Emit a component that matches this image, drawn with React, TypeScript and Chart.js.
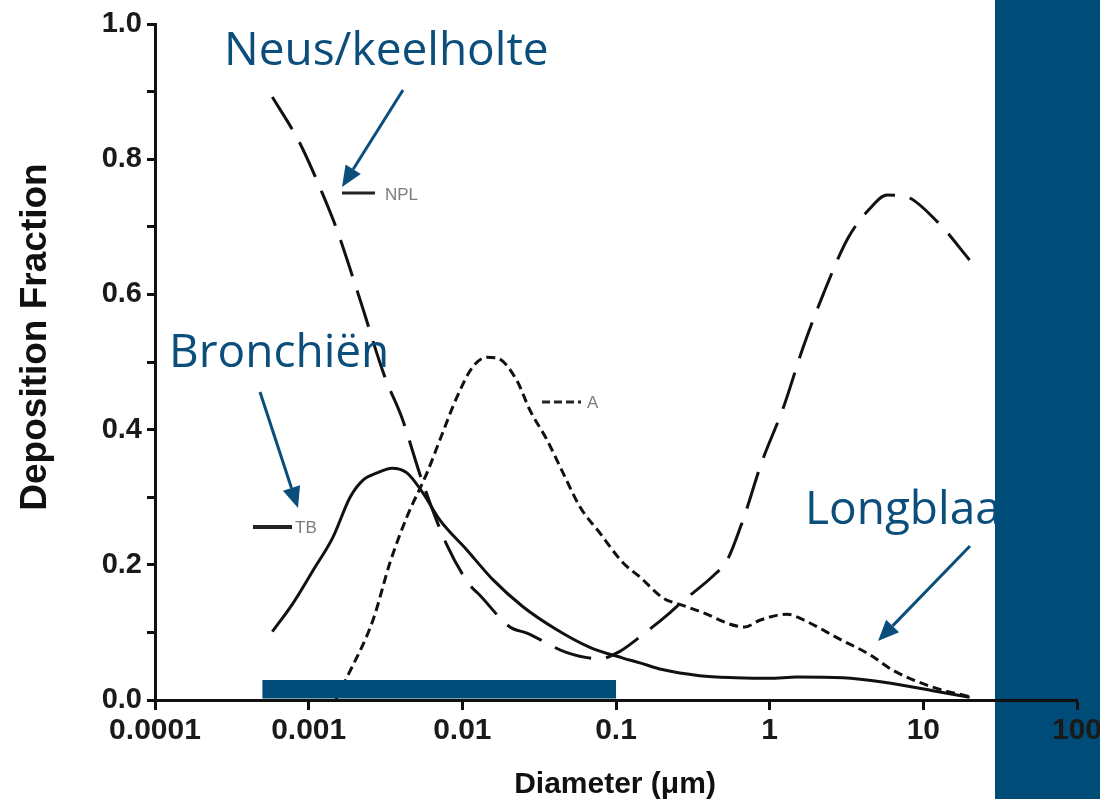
import React, { useEffect, useRef } from "react";
import { Chart, registerables } from "chart.js";

Chart.register(...registerables);

// Deposition fraction per region versus particle diameter (µm)
const npDiameter = [0.00058, 0.00082, 0.00092, 0.00122, 0.00153, 0.00216, 0.00313, 0.00405, 0.00546, 0.00794, 0.0112, 0.013, 0.0204, 0.0263, 0.048, 0.0785, 0.106, 0.137, 0.224, 0.272, 0.44, 0.527, 0.67, 0.886, 1.23, 1.63, 2.22, 3.23, 4.49, 5.8, 7.6, 12.4, 20];
const npFraction = [0.892, 0.836, 0.814, 0.751, 0.695, 0.592, 0.478, 0.417, 0.325, 0.229, 0.17, 0.155, 0.108, 0.099, 0.07, 0.061, 0.072, 0.09, 0.129, 0.146, 0.186, 0.206, 0.266, 0.351, 0.433, 0.518, 0.599, 0.683, 0.727, 0.747, 0.745, 0.707, 0.651];

const aDiameter = [0.0015, 0.00177, 0.00262, 0.00338, 0.00436, 0.00589, 0.00715, 0.00922, 0.0117, 0.0145, 0.0168, 0.0226, 0.0275, 0.0355, 0.0452, 0.0582, 0.0785, 0.111, 0.143, 0.202, 0.272, 0.351, 0.69, 0.863, 1.3, 1.57, 2.86, 4.49, 6.34, 11.5, 20];
const aFraction = [0.0, 0.033, 0.118, 0.203, 0.271, 0.336, 0.385, 0.448, 0.493, 0.507, 0.506, 0.473, 0.429, 0.385, 0.336, 0.286, 0.247, 0.203, 0.182, 0.151, 0.14, 0.131, 0.108, 0.118, 0.127, 0.121, 0.09, 0.067, 0.044, 0.019, 0.005];

const tbDiameter = [0.00058, 0.00079, 0.00107, 0.00144, 0.00186, 0.00225, 0.00278, 0.00348, 0.00436, 0.00555, 0.00715, 0.0107, 0.0158, 0.0248, 0.0412, 0.0676, 0.111, 0.143, 0.2, 0.35, 0.6, 1.0, 1.5, 3.0, 6.0, 12, 20];
const tbFraction = [0.101, 0.143, 0.192, 0.241, 0.3, 0.325, 0.336, 0.343, 0.336, 0.306, 0.266, 0.222, 0.178, 0.138, 0.104, 0.078, 0.062, 0.055, 0.045, 0.036, 0.033, 0.032, 0.034, 0.033, 0.025, 0.013, 0.004];

const seriesNames = ["NPL", "A", "TB"];
const regionNames = ["Neus/keelholte", "Bronchiën", "Longblaasjes"];

// Diameter range highlighted along the x axis
const rangeDiameter = [0.0005, 0.1];

const xTickValues = [0.0001, 0.001, 0.01, 0.1, 1, 10, 100];
const xTickLabels = ["0.0001", "0.001", "0.01", "0.1", "1", "10", "100"];
const yTickValues = [0, 0.1, 0.2, 0.3, 0.4, 0.5, 0.6, 0.7, 0.8, 0.9, 1.0];
const yTickLabels = ["0.0", "", "0.2", "", "0.4", "", "0.6", "", "0.8", "", "1.0"];

const xTitle = "Diameter (μm)";
const yTitle = "Deposition Fraction";

const BLUE = "#004c78";
const NOTE_BLUE = "#0b4e7b";
const INK = "#111";
const SANS = "'Liberation Sans', Arial, sans-serif";
const HAND = "'Open Sans', 'Noto Sans', sans-serif";

const toPoints = (xs: number[], ys: number[]) => xs.map((x, i) => ({ x, y: ys[i] }));

function arrow(ctx: CanvasRenderingContext2D, x1: number, y1: number, x2: number, y2: number, head = 21, half = 9) {
  const ang = Math.atan2(y2 - y1, x2 - x1);
  const bx = x2 - head * Math.cos(ang);
  const by = y2 - head * Math.sin(ang);
  ctx.beginPath();
  ctx.moveTo(x1, y1);
  ctx.lineTo(bx, by);
  ctx.stroke();
  ctx.beginPath();
  ctx.moveTo(x2, y2);
  ctx.lineTo(bx + half * Math.sin(ang), by - half * Math.cos(ang));
  ctx.lineTo(bx - half * Math.sin(ang), by + half * Math.cos(ang));
  ctx.closePath();
  ctx.fill();
}

const overlay = {
  id: "overlay",
  beforeDraw(chart: any) {
    const { ctx, width, height } = chart;
    ctx.save();
    ctx.fillStyle = "#fff";
    ctx.fillRect(0, 0, width, height);
    ctx.fillStyle = BLUE;
    ctx.fillRect(995, 0, width - 995, height);
    ctx.restore();
  },
  afterDatasetsDraw(chart: any) {
    const { ctx } = chart;
    const xs = chart.scales.x;
    const ys = chart.scales.y;
    const x0 = xs.getPixelForValue(rangeDiameter[0]);
    const x1 = xs.getPixelForValue(rangeDiameter[1]);
    const yb = ys.getPixelForValue(0);
    ctx.save();
    ctx.fillStyle = BLUE;
    ctx.fillRect(x0, yb - 20, x1 - x0, 18.5);
    ctx.restore();
  },
  afterDraw(chart: any) {
    const { ctx, height } = chart;
    ctx.save();

    // axis titles
    ctx.fillStyle = INK;
    ctx.font = `bold 30px ${SANS}`;
    ctx.textAlign = "center";
    ctx.textBaseline = "alphabetic";
    ctx.fillText(xTitle, 615, 793);
    ctx.save();
    ctx.translate(46, 337);
    ctx.rotate(-Math.PI / 2);
    ctx.font = `bold 37px ${SANS}`;
    ctx.fillText(yTitle, 0, 0);
    ctx.restore();

    // series keys
    ctx.strokeStyle = "#222";
    ctx.lineWidth = 3;
    ctx.beginPath();
    ctx.moveTo(342, 193);
    ctx.lineTo(375, 193);
    ctx.stroke();
    ctx.setLineDash([8, 4]);
    ctx.beginPath();
    ctx.moveTo(542, 402);
    ctx.lineTo(581, 402);
    ctx.stroke();
    ctx.setLineDash([]);
    ctx.lineWidth = 4;
    ctx.beginPath();
    ctx.moveTo(253, 527);
    ctx.lineTo(292, 527);
    ctx.stroke();
    ctx.fillStyle = "#7d7d7d";
    ctx.font = `17px ${SANS}`;
    ctx.textAlign = "left";
    ctx.fillText(seriesNames[0], 385, 200);
    ctx.fillText(seriesNames[1], 587, 408);
    ctx.fillText(seriesNames[2], 295, 533);

    // region notes with arrows
    ctx.beginPath();
    ctx.rect(0, 0, 995, height);
    ctx.clip();
    ctx.fillStyle = NOTE_BLUE;
    ctx.strokeStyle = NOTE_BLUE;
    ctx.font = `46px ${HAND}`;
    ctx.fillText(regionNames[0], 224, 65);
    ctx.fillText(regionNames[1], 169, 367);
    ctx.fillText(regionNames[2], 805, 524);
    ctx.lineWidth = 3;
    arrow(ctx, 403, 90, 342, 187);
    arrow(ctx, 260, 392, 298, 508);
    arrow(ctx, 970, 546, 878, 641);

    ctx.restore();
  },
};

export default function App() {
  const canvasRef = useRef<HTMLCanvasElement | null>(null);

  useEffect(() => {
    const canvas = canvasRef.current;
    if (!canvas) return;
    const lineBase = {
      borderColor: INK,
      borderWidth: 3,
      pointRadius: 0,
      fill: false,
      cubicInterpolationMode: "monotone" as const,
    };
    const chart = new Chart(canvas, {
      type: "line",
      data: {
        datasets: [
          { ...lineBase, label: seriesNames[0], data: toPoints(npDiameter, npFraction), borderDash: [38, 15] },
          { ...lineBase, label: seriesNames[1], data: toPoints(aDiameter, aFraction), borderDash: [9, 5] },
          { ...lineBase, label: seriesNames[2], data: toPoints(tbDiameter, tbFraction) },
        ],
      },
      options: {
        responsive: false,
        animation: false,
        layout: { padding: { left: 0, right: 23, top: 24, bottom: 0 } },
        plugins: { legend: { display: false }, tooltip: { enabled: false } },
        scales: {
          x: {
            type: "logarithmic",
            min: 0.0001,
            max: 100,
            afterBuildTicks: (s: any) => {
              s.ticks = xTickValues.map((v) => ({ value: v }));
            },
            afterFit: (s: any) => {
              s.height = 99;
              s.paddingLeft = 0;
              s.paddingRight = 0;
            },
            ticks: {
              autoSkip: false,
              maxRotation: 0,
              minRotation: 0,
              padding: 3,
              color: "#1a1a1a",
              font: { family: SANS, size: 30, weight: "bold" },
              callback: (_v: any, i: number) => xTickLabels[i],
            },
            grid: { drawOnChartArea: false, drawTicks: true, tickLength: 10, tickWidth: 3, tickColor: INK },
            border: { color: INK, width: 3 },
          },
          y: {
            min: 0,
            max: 1,
            afterBuildTicks: (s: any) => {
              s.ticks = yTickValues.map((v) => ({ value: v }));
            },
            afterFit: (s: any) => {
              s.width = 155;
              s.paddingTop = 0;
              s.paddingBottom = 0;
            },
            ticks: {
              autoSkip: false,
              padding: 5,
              color: "#1a1a1a",
              font: { family: SANS, size: 29, weight: "bold" },
              callback: (_v: any, i: number) => yTickLabels[i],
            },
            grid: { drawOnChartArea: false, drawTicks: true, tickLength: 8, tickWidth: 3, tickColor: INK },
            border: { color: INK, width: 3 },
          },
        },
      },
      plugins: [overlay],
    } as any);
    return () => chart.destroy();
  }, []);

  return (
    <div style={{ position: "fixed", left: 0, top: 0, width: 1100, height: 799, background: "#fff" }}>
      <canvas ref={canvasRef} width={1100} height={799} style={{ display: "block" }} />
    </div>
  );
}
